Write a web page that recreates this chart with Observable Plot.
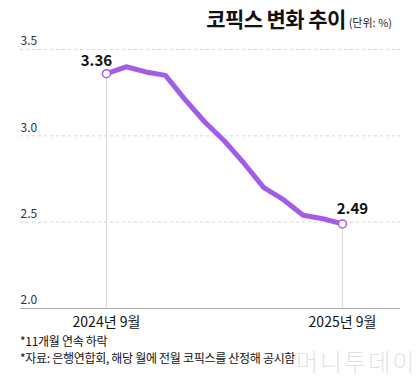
<!DOCTYPE html>
<html>
<head>
<meta charset="utf-8">
<script src="https://cdn.jsdelivr.net/npm/d3@7"></script>
<script src="https://cdn.jsdelivr.net/npm/@observablehq/plot@0.6"></script>
<style>
  html, body { margin: 0; padding: 0; background: #fff; }
  body { width: 420px; height: 384px; position: relative; overflow: hidden; font-family: "Noto Sans CJK KR", "Noto Sans", sans-serif; }
  #title { height: 26px; box-sizing: border-box; text-align: right; padding-right: 28px; padding-top: 2px; line-height: 32px; color: #111; position: relative; z-index: 3; }
  #title .main { font-size: 21px; font-weight: 700; letter-spacing: -0.6px; }
  #title .unit { font-size: 11px; color: #222; margin-left: 3px; }
  #notes { padding-left: 20px; font-size: 12px; line-height: 17px; color: #111; letter-spacing: -0.3px; position: relative; z-index: 1; }
  #wm { position: absolute; left: 296px; top: 343px; font-size: 24px; font-weight: 300; color: rgba(205,205,205,0.6); letter-spacing: 2px; z-index: 2; font-family: "Noto Sans CJK KR", sans-serif; }
  svg { display: block; }
</style>
</head>
<body>
<div id="title"><span class="main">코픽스 변화 추이</span><span class="unit">(단위: %)</span></div>
<div id="chart"></div>
<div id="notes"><div>*11개월 연속 하락</div><div>*자료: 은행연합회, 해당 월에 전월 코픽스를 산정해 공시함</div></div>
<div id="wm">머니투데이</div>
<script>
const months = ["2024-09","2024-10","2024-11","2024-12","2025-01","2025-02","2025-03","2025-04","2025-05","2025-06","2025-07","2025-08","2025-09"];
const values = [3.36, 3.40, 3.37, 3.35, 3.21, 3.08, 2.97, 2.84, 2.70, 2.63, 2.54, 2.52, 2.49];
const xTickIdx = [0, 12];
const xTickLabels = ["2024년 9월", "2025년 9월"];
const yTicks = [2.0, 2.5, 3.0, 3.5];

const data = values.map((v, i) => ({i, month: months[i], v}));
const first = data[0], last = data[data.length - 1];
const purple = "#a35ce6";

const chart = Plot.plot({
  width: 420,
  height: 306,
  marginLeft: 20,
  marginRight: 20,
  marginTop: 23,
  marginBottom: 24,
  style: {fontFamily: "'Noto Sans CJK KR', 'Noto Sans', sans-serif", background: "#fff"},
  x: {type: "linear", domain: [-4.37, 14.95], axis: null},
  y: {domain: [2.0, 3.5], axis: null},
  marks: [
    Plot.ruleY(yTicks.filter(d => d > 2.0), {stroke: "#d6d6d6", strokeDasharray: "3,3", strokeWidth: 1}),
    Plot.ruleY([2.0], {stroke: "#b0b0b0", strokeWidth: 1}),
    Plot.ruleX([first, last], {x: "i", y1: "v", y2: 2.0, stroke: "#d9d9d9", strokeWidth: 1}),
    Plot.text(yTicks, {y: d => d, frameAnchor: "left", text: d => d.toFixed(1), textAnchor: "start", dy: -8, fontSize: 12, fill: "#333"}),
    Plot.text(xTickIdx, {x: d => d, y: 2.0, text: (d, k) => xTickLabels[k], dy: 14, fontSize: 14, fill: "#111", letterSpacing: "-0.5px"}),
    Plot.line(data, {x: "i", y: "v", stroke: purple, strokeWidth: 5, strokeLinejoin: "round", strokeLinecap: "round"}),
    Plot.dot([first, last], {x: "i", y: "v", r: 4, fill: "#fff", stroke: purple, strokeWidth: 1.5}),
    Plot.text([first], {x: "i", y: "v", text: d => d.v.toFixed(2), dy: -12, dx: -10, fontSize: 15, fontWeight: 700, fill: "#111", letterSpacing: "-1px"}),
    Plot.text([last], {x: "i", y: "v", text: d => d.v.toFixed(2), dy: -15, dx: 10, fontSize: 15, fontWeight: 700, fill: "#111", letterSpacing: "-1px"})
  ]
});
document.getElementById("chart").appendChild(chart);
</script>
</body>
</html>
